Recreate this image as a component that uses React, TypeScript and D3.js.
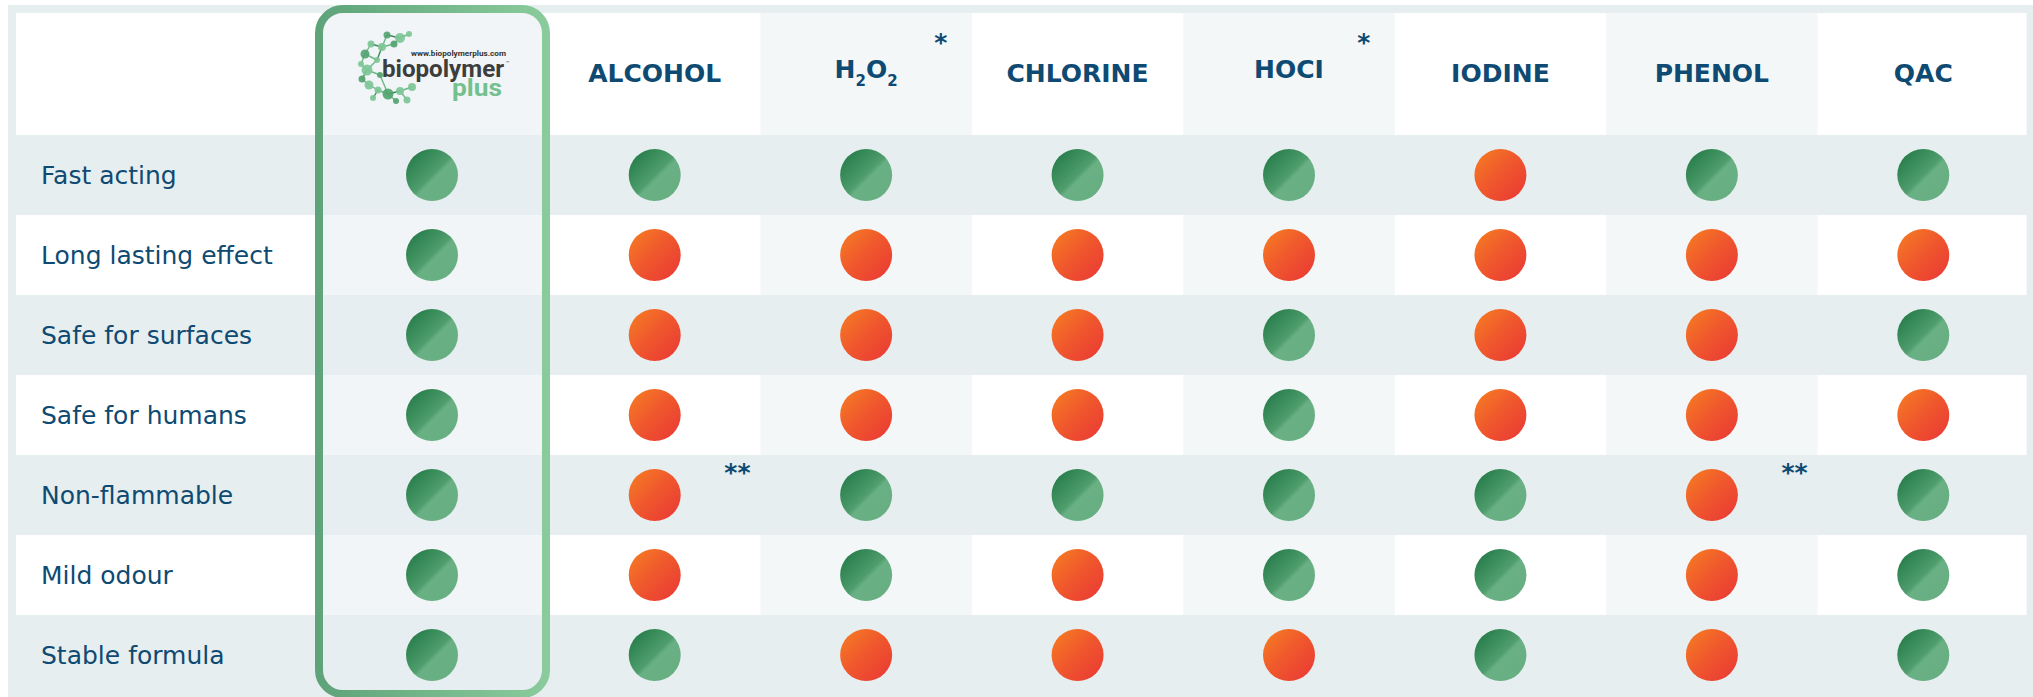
import * as d3 from "d3";

// canvas
const W = 2033;
const H = 697;

// rows and columns of the comparison table
const features = [
  "Fast acting",
  "Long lasting effect",
  "Safe for surfaces",
  "Safe for humans",
  "Non-flammable",
  "Mild odour",
  "Stable formula",
];
const competitors = ["ALCOHOL", "H2O2", "CHLORINE", "HOCI", "IODINE", "PHENOL", "QAC"];

// 1 = yes (green dot), 0 = no (red dot), one value per feature
const biopolymerPlus = [1, 1, 1, 1, 1, 1, 1];
const alcohol = [1, 0, 0, 0, 0, 0, 1];
const h2o2 = [1, 0, 0, 0, 1, 1, 0];
const chlorine = [1, 0, 0, 0, 1, 0, 0];
const hocl = [1, 0, 1, 1, 1, 1, 0];
const iodine = [0, 0, 0, 0, 1, 1, 1];
const phenol = [1, 0, 0, 0, 0, 0, 0];
const qac = [1, 0, 1, 0, 1, 1, 1];

const competitorValues = [alcohol, h2o2, chlorine, hocl, iodine, phenol, qac];

// footnote marks
const headerNotes = ["", "*", "", "*", "", "", ""];
const cellNotes = [
  { feature: "Non-flammable", product: "ALCOHOL", mark: "**" },
  { feature: "Non-flammable", product: "PHENOL", mark: "**" },
];

const GREY = "#e6eef0";
const TINT = "#f3f7f8";
const NAVY = "#0e4a72";
const FONT = "'DejaVu Sans', sans-serif";

// molecule dots of the logo (relative to logo origin)
const logoNodes: [number, number, number][] = [
  [29, 5, 3.5], [42, 8, 5], [51, 4, 3], [36, 14, 3.5], [24, 17, 4], [13, 14, 3.5],
  [7, 24, 4.5], [3, 34, 3], [9, 40, 5.5], [4, 49, 3.5], [11, 55, 4.5], [20, 60, 3.5],
  [30, 64, 5.5], [42, 61, 4], [49, 70, 3.5], [38, 71, 3], [54, 57, 4], [19, 30, 3],
  [22, 45, 3], [15, 68, 3],
];
const logoLinks: [number, number][] = [
  [0, 1], [1, 2], [1, 3], [3, 4], [4, 5], [5, 6], [6, 7], [7, 8], [8, 9], [9, 10],
  [10, 11], [11, 12], [12, 13], [13, 14], [12, 15], [13, 16], [4, 17], [17, 8],
  [8, 18], [18, 12], [11, 19], [0, 4], [6, 17],
];

function HeaderLabel({ text, x, y }: { text: string; x: number; y: number }) {
  const parts = text.match(/[A-Z]+|\d+/g) || [text];
  return (
    <text x={x} y={y} textAnchor="middle" fontFamily={FONT} fontWeight="bold" fontSize={25} fill={NAVY}>
      {parts.map((p, i) =>
        /\d/.test(p) ? (
          <tspan key={i} fontSize={15} dy={8}>{p}</tspan>
        ) : (
          <tspan key={i} dy={i > 0 ? -8 : 0}>{p}</tspan>
        )
      )}
    </text>
  );
}

function Logo({ x, y }: { x: number; y: number }) {
  return (
    <g transform={`translate(${x},${y})`}>
      {logoLinks.map(([a, b], i) => (
        <line
          key={i}
          x1={logoNodes[a][0]}
          y1={logoNodes[a][1]}
          x2={logoNodes[b][0]}
          y2={logoNodes[b][1]}
          stroke={i % 4 === 0 ? "#3c8a5a" : "#6cb887"}
          strokeWidth={1.4}
        />
      ))}
      {logoNodes.map((n, i) => (
        <circle key={i} cx={n[0]} cy={n[1]} r={n[2]} fill={i % 3 === 0 ? "#55a371" : "#7fc697"} opacity={0.92} />
      ))}
      <text x={53} y={26} fontFamily="Roboto, sans-serif" fontWeight="bold" fontSize={7} fill="#333" textLength={95} lengthAdjust="spacingAndGlyphs">
        www.biopolymerplus.com
      </text>
      <text x={24} y={47} fontFamily="Roboto, sans-serif" fontWeight="bold" fontSize={24} fill="#3d3d3d" textLength={122} lengthAdjust="spacingAndGlyphs">
        biopolymer
      </text>
      <text x={148} y={35} fontFamily="Roboto, sans-serif" fontSize={6} fill="#555">™</text>
      <text x={94} y={66} fontFamily="Roboto, sans-serif" fontWeight="bold" fontSize={23} fill="#74c08f" textLength={50} lengthAdjust="spacingAndGlyphs">
        plus
      </text>
    </g>
  );
}

export default function App() {
  const x = d3.scaleBand<string>().domain(competitors).range([549, 2029]);
  const y = d3.scaleBand<string>().domain(features).range([135, 695]);
  const bioX = 432;
  const r = 26;
  const tinted = (i: number) => i % 2 === 1;

  const dotFill = (v: number) => (v ? "url(#dotGreen)" : "url(#dotRed)");

  return (
    <svg width={W} height={H} style={{ position: "absolute", left: 0, top: 0 }}>
      <defs>
        <linearGradient id="dotGreen" x1="0" y1="0" x2="1" y2="1">
          <stop offset="0" stopColor="#1c7442" />
          <stop offset="0.5" stopColor="#4f9d6c" />
          <stop offset="0.56" stopColor="#69b084" />
          <stop offset="1" stopColor="#66ad80" />
        </linearGradient>
        <linearGradient id="dotRed" x1="0" y1="0" x2="1" y2="1">
          <stop offset="0" stopColor="#f67f22" />
          <stop offset="0.45" stopColor="#f05a2c" />
          <stop offset="1" stopColor="#e93636" />
        </linearGradient>
        <linearGradient id="frameStroke" x1="0" y1="0" x2="1" y2="0">
          <stop offset="0" stopColor="#5ea379" />
          <stop offset="1" stopColor="#8acb9c" />
        </linearGradient>
      </defs>

      <rect width={W} height={H} fill="#fff" />
      <rect x={8} y={5} width={W - 8} height={H - 5} fill={GREY} />

      {/* header */}
      <rect x={16} y={13} width={2026.5 - 16} height={122} fill="#fff" />
      {competitors.map((c, i) =>
        tinted(i) ? <rect key={c} x={x(c)} y={13} width={x.bandwidth()} height={122} fill={TINT} /> : null
      )}

      {/* white rows */}
      {features.map((f, j) =>
        j % 2 === 1 ? (
          <g key={f}>
            <rect x={16} y={y(f)} width={2026.5 - 16} height={y.bandwidth()} fill="#fff" />
            {competitors.map((c, i) =>
              tinted(i) ? <rect key={c} x={x(c)} y={y(f)} width={x.bandwidth()} height={y.bandwidth()} fill={TINT} /> : null
            )}
          </g>
        ) : null
      )}

      {/* highlight frame */}
      <rect x={319} y={9} width={227} height={685} rx={24} fill="rgba(231,239,241,0.6)" stroke="url(#frameStroke)" strokeWidth={8} />

      {/* headers */}
      {competitors.map((c, i) => (
        <HeaderLabel key={c} text={c} x={(x(c) || 0) + x.bandwidth() / 2} y={headerNotes[i] ? 78 : 82} />
      ))}
      {competitors.map((c, i) =>
        headerNotes[i] ? (
          <text key={c} x={(x(c) || 0) + x.bandwidth() - 31} y={51} textAnchor="middle" fontFamily={FONT} fontWeight="bold" fontSize={25} fill={NAVY}>
            {headerNotes[i]}
          </text>
        ) : null
      )}
      <Logo x={358} y={30} />

      {/* row labels */}
      {features.map((f) => (
        <text key={f} x={41} y={(y(f) || 0) + y.bandwidth() / 2 + 9} fontFamily={FONT} fontSize={25} fill={NAVY}>
          {f}
        </text>
      ))}

      {/* dots */}
      {features.map((f, j) => (
        <circle key={f} cx={bioX} cy={(y(f) || 0) + y.bandwidth() / 2} r={r} fill={dotFill(biopolymerPlus[j])} />
      ))}
      {competitors.map((c, i) =>
        features.map((f, j) => (
          <circle
            key={c + f}
            cx={(x(c) || 0) + x.bandwidth() / 2}
            cy={(y(f) || 0) + y.bandwidth() / 2}
            r={r}
            fill={dotFill(competitorValues[i][j])}
          />
        ))
      )}
      {cellNotes.map((n) => (
        <text
          key={n.product}
          x={(x(n.product) || 0) + x.bandwidth() - 23}
          y={(y(n.feature) || 0) + 26}
          textAnchor="middle"
          fontFamily={FONT}
          fontWeight="bold"
          fontSize={25}
          fill={NAVY}
        >
          {n.mark}
        </text>
      ))}
    </svg>
  );
}
